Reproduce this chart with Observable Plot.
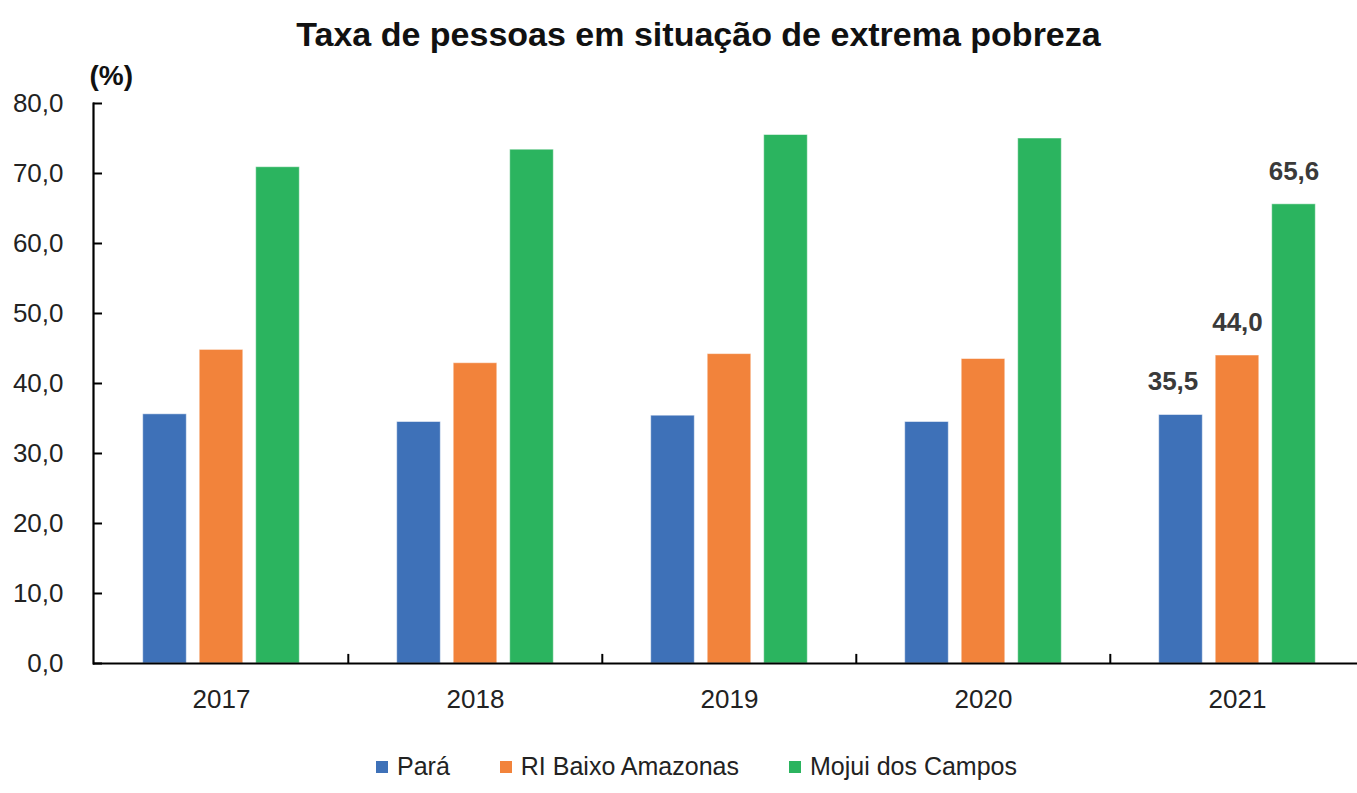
<!DOCTYPE html>
<html>
<head>
<meta charset="utf-8">
<script src="https://cdn.jsdelivr.net/npm/d3@7"></script>
<script src="https://cdn.jsdelivr.net/npm/@observablehq/plot@0.6"></script>
<style>
  html, body { margin: 0; padding: 0; background: #fff; }
  body { width: 1357px; height: 793px; overflow: hidden; font-family: "Liberation Sans Narrow", "Arial Narrow", "Liberation Sans", sans-serif; }
  #title { height: 60px; text-align: center; font-weight: bold; font-size: 34px; line-height: 68px; color: #111; padding-left: 40px; }
  #legend { display: flex; justify-content: center; align-items: center; height: 53px; font-size: 25px; color: #222; padding-left: 36px; box-sizing: border-box; }
  .item { display: flex; align-items: center; margin: 0 25px; }
  .sw { width: 12px; height: 12px; margin-right: 9px; }
  svg { display: block; }
</style>
</head>
<body>
<div id="title">Taxa de pessoas em situação de extrema pobreza</div>
<div id="chart"></div>
<div id="legend"></div>
<script>
const years = ["2017", "2018", "2019", "2020", "2021"];
const series = ["Pará", "RI Baixo Amazonas", "Mojui dos Campos"];
const colors = ["#3E71B8", "#F2833B", "#2BB45F"];
const para = [35.6, 34.5, 35.4, 34.5, 35.5];
const riBaixo = [44.8, 42.9, 44.2, 43.5, 44.0];
const mojui = [70.9, 73.4, 75.5, 75.0, 65.6];
const yTicks = [0, 10, 20, 30, 40, 50, 60, 70, 80];
const labelYear = "2021";

const values = [para, riBaixo, mojui];
const data = [];
series.forEach((s, i) => years.forEach((y, j) => data.push({year: y, series: s, idx: i, value: values[i][j]})));

const width = 1357, height = 680;
const xRange = [93, 1365];
const band = (xRange[1] - xRange[0]) / years.length;
const barW = 44, step = 56.5;
const inset = (band - barW) / 2;
const fmt = d => d.toFixed(1).replace(".", ",");
const font = '"Liberation Sans Narrow", "Arial Narrow", "Liberation Sans", sans-serif';

const marks = [];
series.forEach((s, i) => {
  marks.push(Plot.barY(data.filter(d => d.idx === i), {
    x: "year", y: "value", fill: colors[i],
    dx: (i - 1) * step, insetLeft: inset, insetRight: inset,
    stroke: "#ffffff", strokeOpacity: 0.5, strokeWidth: 1
  }));
  marks.push(Plot.text(data.filter(d => d.idx === i && d.year === labelYear), {
    x: "year", y: "value", text: d => fmt(d.value),
    dx: (i - 1) * step - (i === 0 ? 8 : 0), dy: -33, fontSize: 26, fontWeight: "bold", fill: "#3a3a3a", lineAnchor: "middle"
  }));
});
// axis lines
marks.push(Plot.ruleY([0], {stroke: "#000", strokeWidth: 2.2}));
marks.push(Plot.frame({anchor: "left", stroke: "#000", strokeWidth: 2.2}));
// category separator ticks
marks.push(Plot.ruleX(years.slice(1), {x: d => d, y1: 0, y2: 1.3, dx: -band / 2, stroke: "#000", strokeWidth: 2}));
marks.push(Plot.axisY({ticks: yTicks, tickFormat: fmt, tickSize: -9, tickPadding: 39, fontSize: 26, strokeWidth: 2, label: null, stroke: "#000"}));
marks.push(Plot.axisX({tickSize: 0, tickPadding: 26, fontSize: 26, label: null}));
marks.push(Plot.text(["(%)"], {frameAnchor: "top-left", dx: -4, dy: -38, fontSize: 28, fontWeight: "bold", fill: "#111"}));

const chart = Plot.plot({
  width, height,
  marginLeft: 93, marginRight: 0, marginTop: 43, marginBottom: 77,
  style: {fontFamily: font, color: "#222", overflow: "visible"},
  x: {domain: years, range: xRange, padding: 0, label: null},
  y: {domain: [0, 80], label: null},
  marks
});
document.getElementById("chart").appendChild(chart);

const legend = document.getElementById("legend");
series.forEach((s, i) => {
  const it = document.createElement("div");
  it.className = "item";
  const sw = document.createElement("span");
  sw.className = "sw";
  sw.style.background = colors[i];
  it.appendChild(sw);
  it.appendChild(document.createTextNode(s));
  legend.appendChild(it);
});
</script>
</body>
</html>
